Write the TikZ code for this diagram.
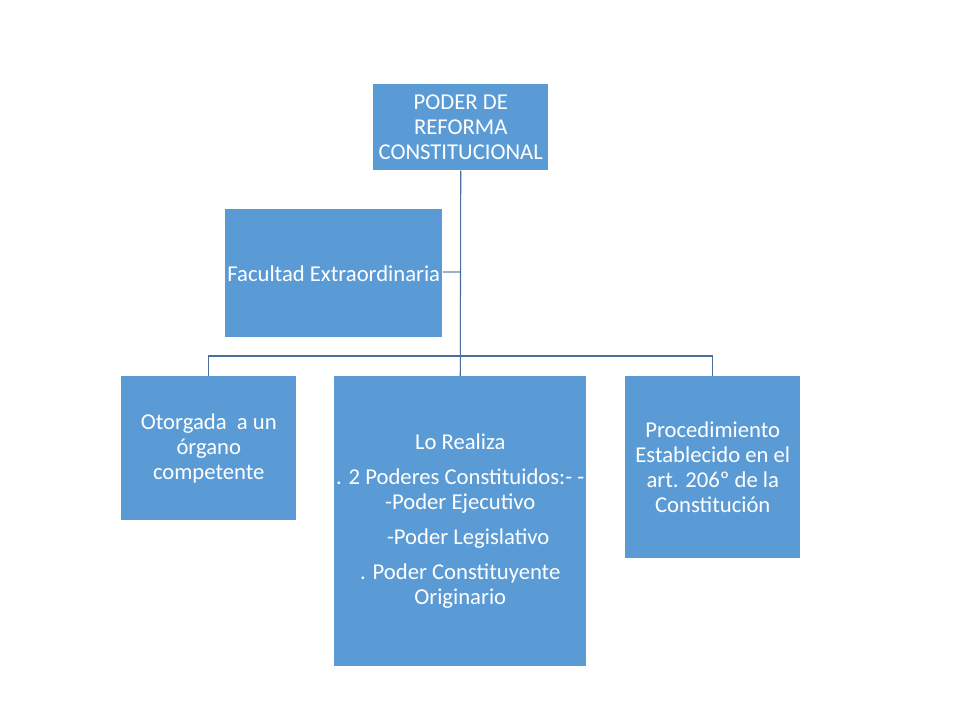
\documentclass[tikz,border=0pt]{standalone}
\usepackage{fontspec}
\setmainfont{Carlito}
\definecolor{boxblue}{HTML}{5B9BD5}
\definecolor{linkblue}{HTML}{4A6F9C}
\definecolor{linklight}{HTML}{98AECB}
\begin{document}
\begin{tikzpicture}[x=0.75pt,y=-0.75pt,
  box/.style={fill=boxblue,draw=none,text=white,align=center,inner sep=0pt,
    font=\fontsize{17}{18.75}\selectfont,anchor=north west},
  link/.style={draw=linkblue,line width=0.8pt},
  lightlink/.style={draw=linklight,line width=1pt}]
\useasboundingbox (0,0) rectangle (960,720);
\node[box,minimum width=175*0.75pt,minimum height=86*0.75pt] (top) at (373,84)
  {PODER DE\\REFORMA\\CONSTITUCIONAL};
\node[box,minimum width=217*0.75pt,minimum height=128*0.75pt] (fac) at (225,209)
  {Facultad Extraordinaria};
\node[box,minimum width=175*0.75pt,minimum height=144*0.75pt] (otor) at (121,376)
  {Otorgada~ a un\\órgano\\competente};
\node[box,minimum width=252*0.75pt,minimum height=290*0.75pt] (real) at (334,376)
  {Lo Realiza\\[7.5pt]. 2 Poderes Constituidos:- -\\-Poder Ejecutivo\\[7.5pt]\hspace*{0.7em}-Poder Legislativo\\[7.5pt]. Poder Constituyente\\Originario};
\node[box,minimum width=175*0.75pt,minimum height=182*0.75pt] (proc) at (625,376)
  {Procedimiento\\Establecido en el\\art. 206º de la\\Constitución};
\coordinate (bus) at (460,356);
\coordinate (fj) at (460,272);
\draw[link] (top.south) -- (real.north);
\draw[lightlink] (fac.east |- fj) -- (fj);
\draw[link] (otor.north) |- (bus) -| (proc.north);
\end{tikzpicture}
\end{document}
